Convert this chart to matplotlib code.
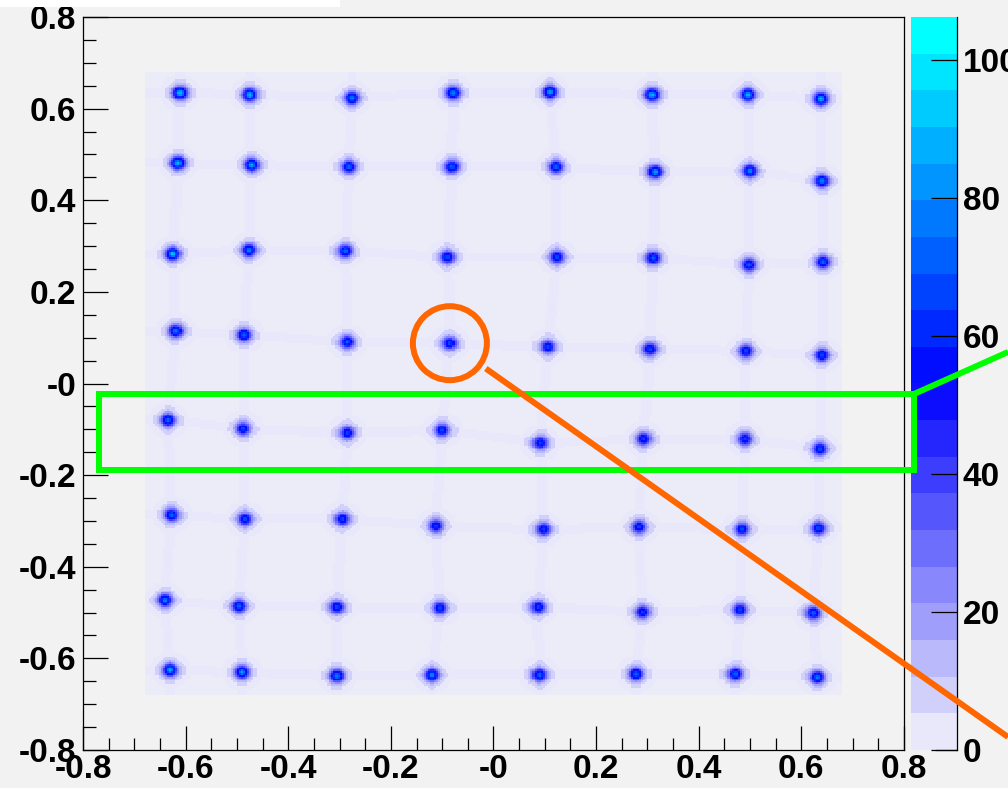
import numpy as np
import matplotlib
matplotlib.use("Agg")
import matplotlib.pyplot as plt
from matplotlib.colors import ListedColormap, LinearSegmentedColormap, BoundaryNorm
from matplotlib.patches import Rectangle, Circle

plt.rcParams['font.family'] = ['Liberation Sans', 'DejaVu Sans']
plt.rcParams['font.weight'] = 'bold'

# crystal spot centres of the flood map, rows top -> bottom, columns left -> right
spot_x = np.array([
    [-0.611, -0.475, -0.276, -0.079, 0.110, 0.309, 0.496, 0.638],
    [-0.615, -0.471, -0.282, -0.081, 0.122, 0.315, 0.500, 0.640],
    [-0.625, -0.476, -0.289, -0.089, 0.124, 0.311, 0.498, 0.642],
    [-0.619, -0.486, -0.285, -0.085, 0.106, 0.305, 0.492, 0.640],
    [-0.634, -0.488, -0.285, -0.100, 0.091, 0.293, 0.490, 0.636],
    [-0.627, -0.484, -0.295, -0.112, 0.097, 0.284, 0.484, 0.633],
    [-0.640, -0.496, -0.305, -0.104, 0.087, 0.291, 0.480, 0.623],
    [-0.630, -0.490, -0.305, -0.120, 0.089, 0.278, 0.471, 0.631],
])
spot_y = np.array([
    [0.634, 0.630, 0.623, 0.634, 0.636, 0.630, 0.630, 0.621],
    [0.481, 0.477, 0.473, 0.473, 0.473, 0.462, 0.464, 0.442],
    [0.283, 0.291, 0.289, 0.276, 0.276, 0.274, 0.259, 0.265],
    [0.115, 0.106, 0.091, 0.088, 0.080, 0.075, 0.071, 0.062],
    [-0.080, -0.099, -0.108, -0.102, -0.130, -0.121, -0.121, -0.143],
    [-0.287, -0.296, -0.296, -0.311, -0.318, -0.313, -0.318, -0.316],
    [-0.473, -0.486, -0.488, -0.490, -0.488, -0.499, -0.494, -0.501],
    [-0.625, -0.630, -0.638, -0.636, -0.636, -0.634, -0.634, -0.641],
])
# peak counts per crystal
spot_peak = np.array([
    [72, 70, 62, 58, 66, 68, 70, 70],
    [72, 68, 56, 54, 56, 66, 60, 62],
    [74, 60, 56, 52, 52, 52, 52, 56],
    [60, 56, 52, 48, 48, 48, 52, 52],
    [56, 48, 48, 48, 48, 48, 48, 52],
    [56, 52, 48, 48, 48, 48, 48, 52],
    [60, 56, 48, 48, 48, 48, 48, 56],
    [68, 64, 60, 60, 56, 56, 56, 60],
])

z_max = 106.2
n_levels = 20
half_size = 0.68        # extent of the illuminated block
n_bins = 400

y_ticks = [-0.8, -0.6, -0.4, -0.2, 0.0, 0.2, 0.4, 0.6, 0.8]
y_labels = ["-0.8", "-0.6", "-0.4", "-0.2", "-0", "0.2", "0.4", "0.6", "0.8"]
x_ticks = [-0.8, -0.6, -0.4, -0.2, 0.0, 0.2, 0.4, 0.6, 0.8]
x_labels = ["-0.8", "-0.6", "-0.4", "-0.2", "-0", "0.2", "0.4", "0.6", "0.8"]
z_ticks = [0, 20, 40, 60, 80, 100]

W, H = 1008, 788
BG = '#f2f2f2'

# ---- build the 2D histogram ----
edges = np.linspace(-0.8, 0.8, n_bins + 1)
centers = 0.5 * (edges[:-1] + edges[1:])
X, Y = np.meshgrid(centers, centers)
inside = (np.abs(X) <= half_size) & (np.abs(Y) <= half_size)

counts = np.zeros_like(X)
stripe = np.zeros_like(X, dtype=bool)
for r in range(spot_x.shape[0]):
    path = np.interp(centers, spot_x[r], spot_y[r])
    stripe |= np.abs(Y - path[None, :]) < 0.01
for c in range(spot_x.shape[1]):
    order = np.argsort(spot_y[:, c])
    path = np.interp(centers, spot_y[order, c], spot_x[order, c])
    stripe |= np.abs(X - path[:, None]) < 0.01
counts[stripe & inside] += 2.0

for xs, ys, ps in zip(spot_x, spot_y, spot_peak):
    for x0, y0, p in zip(xs, ys, ps):
        r2 = (X - x0) ** 2 + (Y - y0) ** 2
        counts += p * np.exp(-r2 / (2 * 0.0085 ** 2)) + 16 * np.exp(-r2 / (2 * 0.017 ** 2))

counts = np.ma.masked_less(counts, 1.0)

low = (0.91, 0.91, 0.98)
base = LinearSegmentedColormap.from_list('root_blue', [(0.0, low), (0.5, (0, 0, 1)), (1.0, (0, 1, 1))])
cmap = ListedColormap(base(np.linspace(0, 1, n_levels)))
levels = np.linspace(0, z_max, n_levels + 1)
norm = BoundaryNorm(levels, n_levels)

fig = plt.figure(figsize=(W / 100, H / 100), dpi=100, facecolor=BG)
ax = fig.add_axes([83 / W, 38 / H, 821 / W, 733 / H], facecolor=BG)
ax.add_patch(Rectangle((-half_size, -half_size), 2 * half_size, 2 * half_size,
                       facecolor='#ececf8', edgecolor='none', zorder=0))
mesh = ax.pcolormesh(edges, edges, counts, cmap=cmap, norm=norm, zorder=1)
ax.set_xlim(-0.8, 0.8)
ax.set_ylim(-0.8, 0.8)

ax.set_xticks(x_ticks)
ax.set_xticklabels(x_labels)
ax.set_yticks(y_ticks)
ax.set_yticklabels(y_labels)
ax.set_xticks(np.arange(-0.8, 0.801, 0.05), minor=True)
ax.set_yticks(np.arange(-0.8, 0.801, 0.05), minor=True)
ax.tick_params(which='both', direction='in', top=False, right=False, width=0.9)
ax.tick_params(axis='y', which='major', length=18, labelsize=24, pad=5)
ax.tick_params(axis='x', which='major', length=17, labelsize=24, pad=3)
ax.tick_params(which='minor', length=9)
for s in ax.spines.values():
    s.set_linewidth(0.9)

# colour palette on the right
cax = fig.add_axes([911 / W, 38 / H, 46 / W, 733 / H])
cb = fig.colorbar(mesh, cax=cax)
cb.outline.set_visible(False)
cb.set_ticks(z_ticks)
cax.tick_params(direction='in', length=18.5, width=0.9, labelsize=24, pad=4, right=True)
cax.minorticks_off()
cax.plot([1, 1], [0, 1], transform=cax.transAxes, color='k', lw=0.9, clip_on=False)
cax.plot([0.55, 1], [0, 0], transform=cax.transAxes, color='k', lw=0.9, clip_on=False)

# highlight overlay in pixel coordinates
ov = fig.add_axes([0, 0, 1, 1])
ov.set_xlim(0, W)
ov.set_ylim(0, H)
ov.axis('off')
ov.patch.set_visible(False)
ov.add_patch(Rectangle((0, H - 7), 340, 7, facecolor='white', edgecolor='none'))
green = '#00ff00'
orange = '#ff6600'
ov.add_patch(Rectangle((99, H - 470), 815, 76, fill=False, edgecolor=green, lw=4.3))
ov.plot([914, W], [H - 394, H - 352], color=green, lw=4.3, solid_capstyle='butt')
cx, cy = ax.transData.transform((spot_x[3, 3], spot_y[3, 3]))
ov.add_patch(Circle((cx, cy), 37, fill=False, edgecolor=orange, lw=4.3))
end = np.array([W, H - 737.0])
d = end - np.array([cx, cy])
d /= np.hypot(*d)
start = np.array([cx, cy]) + 44 * d
ov.plot([start[0], end[0]], [start[1], end[1]], color=orange, lw=4.3, solid_capstyle='butt')

fig.savefig("out.png", dpi=100, facecolor=BG)
